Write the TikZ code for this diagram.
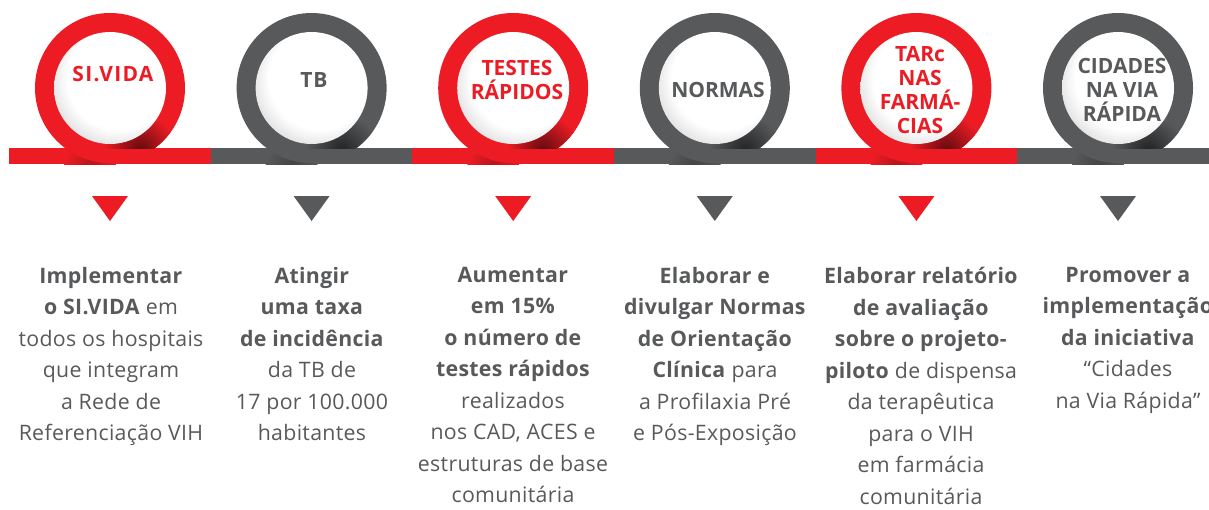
\documentclass[tikz,border=0pt]{standalone}
\usepackage{fontspec}
\setmainfont{Open Sans}
\definecolor{cred}{HTML}{ED1C24}
\definecolor{cgrey}{HTML}{58595B}
\definecolor{ctext}{HTML}{58595B}
\pgfdeclareradialshading{ballshade}{\pgfpoint{7bp}{8bp}}{color(0bp)=(white); color(23bp)=(white); color(29bp)=(black!10); color(34bp)=(black!32); color(50bp)=(black!32)}
\tikzset{
  body/.style={align=center, anchor=north, inner sep=0pt, text=ctext, font=\fontsize{21.3}{31.5}\selectfont\addfontfeature{LetterSpace=1.5}},
  lbl/.style={align=center, anchor=center, inner sep=0pt, font=\fontsize{21}{24}\selectfont\bfseries},
}
\begin{document}
\begin{tikzpicture}[x=1pt,y=-1pt]
\useasboundingbox (0,0) rectangle (1209,509);
\foreach \i/\col in {0/cred,1/cgrey,2/cred,3/cgrey,4/cred,5/cgrey} {
  \pgfmathsetmacro{\cx}{110+201.6*\i}
  \pgfmathsetmacro{\sa}{9+201.67*\i}
  \pgfmathsetmacro{\sb}{9+201.67*(\i+1)}
  % bar segment
  \fill[\col] (\sa,148) rectangle (\sb,164);
  % shadow on bar, lower left of ring
  \begin{scope}
    \clip (\sa,148) rectangle (\sb,164);
    \shade[inner color=\col!75!black, outer color=\col] (\cx-20,166) circle (26);
  \end{scope}
  % ring
  \fill[\col] (\cx,88) circle (75);
  % shadow on ring under the ball
  \begin{scope}
    \clip (\cx,88) circle (75);
    \clip (\cx-75,122) rectangle (\cx+75,148);
    \shade[inner color=\col!40!black, outer color=\col] (\cx+30,150) circle (36);
  \end{scope}
  % ball
  \shade[shading=ballshade] (\cx,88) circle (56);
  % triangle
  \coordinate (tri\i) at (\cx,208);
  \fill[\col] (\cx-18,196) -- (\cx+18,196) -- (\cx,221) -- cycle;
}
% circle labels
\node[lbl, text=cred]  (l1) at (113,74.5) {\addfontfeature{LetterSpace=6}SI.VIDA};
\node[lbl, text=cgrey] (l2) at (314,80) {\addfontfeature{LetterSpace=4}TB};
\node[lbl, text=cred]  (l3) at (517,80) {TESTES\\RÁPIDOS};
\node[lbl, text=cgrey] (l4) at (718,90) {NORMAS};
\node[lbl, text=cred]  (l5) at (920,90) {TARc\\NAS\\FARMÁ-\\CIAS};
\node[lbl, text=cgrey] (l6) at (1122,90) {CIDADES\\NA VIA\\RÁPIDA};
% body texts
\node[body] (t1) at (111,267) {\textbf{Implementar}\\\textbf{o SI.VIDA} em\\todos os hospitais\\que integram\\a Rede de\\Referenciação VIH};
\node[body] (t2) at (312,267) {\textbf{Atingir}\\\textbf{uma taxa}\\\textbf{de incidência}\\da TB de\\17 por 100.000\\habitantes};
\node[body] (t3) at (513,267) {\textbf{Aumentar}\\\textbf{em 15\%}\\\textbf{o número de}\\\textbf{testes rápidos}\\realizados\\nos CAD, ACES e\\estruturas de base\\comunitária};
\node[body] (t4) at (715,267) {\textbf{Elaborar e}\\\textbf{divulgar Normas}\\\textbf{de Orientação}\\\textbf{Clínica} para\\a Profilaxia Pré\\e Pós-Exposição};
\node[body] (t5) at (921,267) {\textbf{Elaborar relatório}\\\textbf{de avaliação}\\\textbf{sobre o projeto-}\\\textbf{piloto} de dispensa\\da terapêutica\\para o VIH\\em farmácia\\comunitária};
\node[body] (t6) at (1128,267) {\textbf{Promover a}\\\textbf{implementação}\\\textbf{da iniciativa}\\“Cidades\\na Via Rápida”};
\end{tikzpicture}
\end{document}
